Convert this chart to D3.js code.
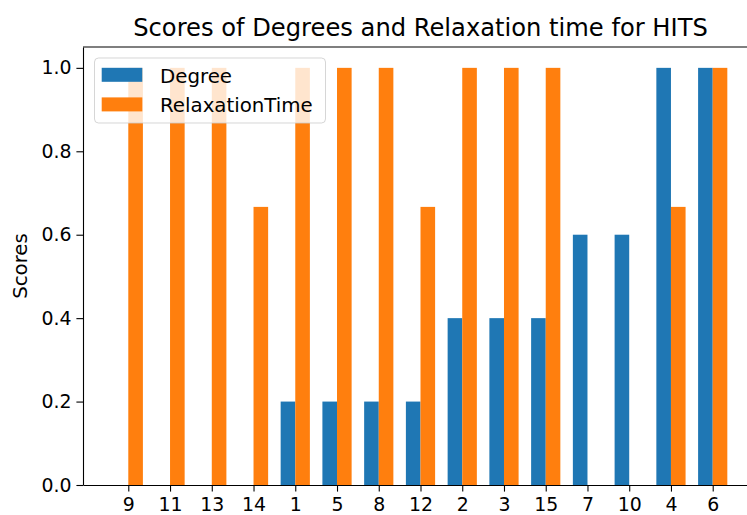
<!DOCTYPE html>
<html>
<head>
<meta charset="utf-8">
<script src="https://cdn.jsdelivr.net/npm/d3@7"></script>
<style>
  body { margin: 0; background: #fff; }
  svg { display: block; font-family: "DejaVu Sans", sans-serif; }
  .axis path, .axis line { stroke: #000; stroke-width: 1.1px; }
  .axis text { font-size: 18.9px; fill: #000; font-family: "DejaVu Sans", sans-serif; }
</style>
</head>
<body>
<svg id="chart" width="747" height="515"></svg>
<script>
// node labels in plotted order
var nodes = ["9", "11", "13", "14", "1", "5", "8", "12", "2", "3", "15", "7", "10", "4", "6"];
var degree = [0, 0, 0, 0, 0.2, 0.2, 0.2, 0.2, 0.4, 0.4, 0.4, 0.6, 0.6, 1.0, 1.0];
var relaxation = [1, 1, 1, 0.6667, 1, 1, 1, 0.6667, 1, 1, 1, 0, 0, 0.6667, 1];
var yTicks = [0, 0.2, 0.4, 0.6, 0.8, 1.0];
var seriesNames = ["Degree", "RelaxationTime"];
var colors = ["#1f77b4", "#ff7f0e"];

var barW = 0.35;
// plot box (right edge runs past the window, as in the cropped original)
var box = { left: 83, right: 758, top: 47, bottom: 485 };

var svg = d3.select("#chart");

// matplotlib style 5% margins around the bars
var lo = -barW, hi = nodes.length - 1 + barW;
var pad = (hi - lo) * 0.05;
var x = d3.scaleLinear().domain([lo - pad, hi + pad]).range([box.left, box.right]);
var y = d3.scaleLinear().domain([0, 1.05]).range([box.bottom, box.top]);

var g = svg.append("g");

// degree bars sit left of the tick, relaxation bars right of it
g.selectAll(".deg")
    .data(degree)
    .enter()
    .append("rect")
    .attr("class", "deg")
    .attr("x", function (d, i) { return x(i - barW); })
    .attr("width", function (d, i) { return x(i) - x(i - barW); })
    .attr("y", function (d) { return y(d); })
    .attr("height", function (d) { return y(0) - y(d); })
    .attr("fill", colors[0]);

g.selectAll(".rel")
    .data(relaxation)
    .enter()
    .append("rect")
    .attr("class", "rel")
    .attr("x", function (d, i) { return x(i); })
    .attr("width", function (d, i) { return x(i + barW) - x(i); })
    .attr("y", function (d) { return y(d); })
    .attr("height", function (d) { return y(0) - y(d); })
    .attr("fill", colors[1]);

// axes
var xAxis = d3.axisBottom(x)
    .tickValues(d3.range(nodes.length))
    .tickFormat(function (i) { return nodes[i]; })
    .tickSizeInner(6.6)
    .tickSizeOuter(0)
    .tickPadding(4.8);

var yAxis = d3.axisLeft(y)
    .tickValues(yTicks)
    .tickFormat(d3.format(".1f"))
    .tickSizeInner(6.6)
    .tickSizeOuter(0)
    .tickPadding(4.8);

var gx = svg.append("g")
    .attr("class", "axis")
    .attr("transform", "translate(0," + box.bottom + ")")
    .call(xAxis);
gx.selectAll("text").attr("dy", "0.78em");

svg.append("g")
    .attr("class", "axis")
    .attr("transform", "translate(" + box.left + ",0)")
    .call(yAxis);

// top and right spines
svg.append("line")
    .attr("x1", box.left).attr("x2", box.right)
    .attr("y1", box.top).attr("y2", box.top)
    .attr("stroke", "#000").attr("stroke-width", 1.1);
svg.append("line")
    .attr("x1", box.right).attr("x2", box.right)
    .attr("y1", box.top).attr("y2", box.bottom)
    .attr("stroke", "#000").attr("stroke-width", 1.1);

// title
svg.append("text")
    .attr("x", (box.left + box.right) / 2)
    .attr("y", 36)
    .attr("text-anchor", "middle")
    .style("font-size", "24.2px")
    .text("Scores of Degrees and Relaxation time for HITS");

// y label
svg.append("text")
    .attr("transform", "translate(26.5," + ((box.top + box.bottom) / 2) + ") rotate(-90)")
    .attr("text-anchor", "middle")
    .style("font-size", "19.8px")
    .text("Scores");

// legend
var legend = svg.append("g");
legend.append("rect")
    .attr("x", 94.5).attr("y", 58)
    .attr("width", 231).attr("height", 65)
    .attr("rx", 4)
    .attr("fill", "#fff").attr("fill-opacity", 0.8)
    .attr("stroke", "#cccccc").attr("stroke-opacity", 0.8);

var items = legend.selectAll(".item")
    .data(seriesNames)
    .enter()
    .append("g")
    .attr("transform", function (d, i) { return "translate(0," + (i * 29.6) + ")"; });

items.append("rect")
    .attr("x", 101.7).attr("y", 67.8)
    .attr("width", 40.6).attr("height", 14)
    .attr("fill", function (d, i) { return colors[i]; });

items.append("text")
    .attr("x", 160).attr("y", 82.5)
    .style("font-size", "19.8px")
    .text(function (d) { return d; });
</script>
</body>
</html>
